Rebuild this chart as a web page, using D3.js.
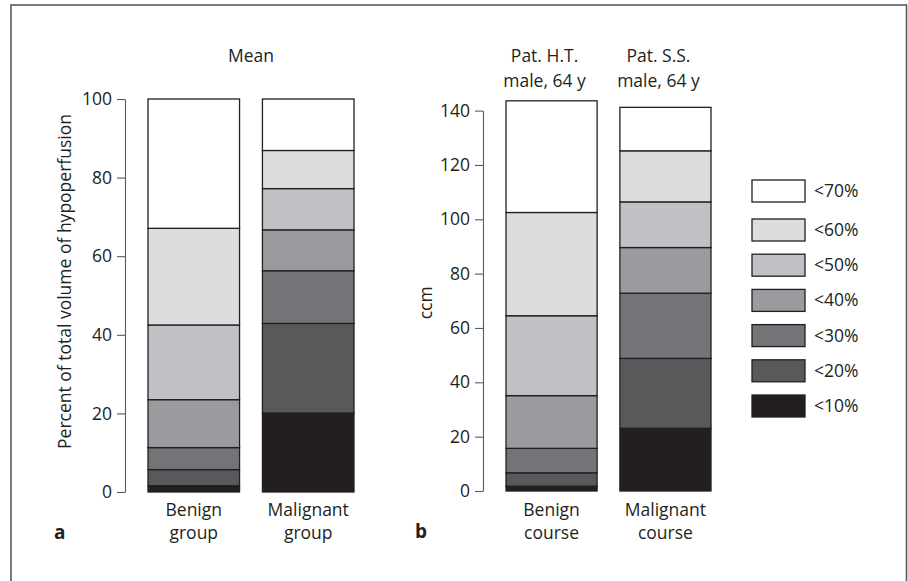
<!DOCTYPE html>
<html><head><meta charset="utf-8">
<script src="https://cdn.jsdelivr.net/npm/d3@7"></script>
<style>body{margin:0;background:#fff}svg text{font-family:"Open Sans",sans-serif;fill:#231f20}</style>
</head><body>
<script>
const levels = ["<10%","<20%","<30%","<40%","<50%","<60%","<70%"];
const levelColors = ["#231f20","#58595b","#737477","#9a9b9e","#c0c1c4","#dcdddf","#ffffff"];
const groupsA = ["Benign group","Malignant group"];
const groupsB = ["Benign course","Malignant course"];
const benignGroup = [1.6, 4.1, 5.6, 12.2, 19.0, 24.6, 32.9];
const malignantGroup = [20.1, 22.8, 13.4, 10.4, 10.5, 9.7, 13.1];
const benignCourse = [1.8, 4.9, 9.0, 19.4, 29.4, 38.0, 41.1];
const malignantCourse = [23.1, 25.7, 24.0, 16.8, 16.8, 18.8, 16.0];
const ticksA = [0,20,40,60,80,100];
const ticksB = [0,20,40,60,80,100,120,140];
const titleA = ["Mean"];
const titleB = [["Pat. H.T.","male, 64 y"],["Pat. S.S.","male, 64 y"]];
const catLabelsA = [["Benign","group"],["Malignant","group"]];
const catLabelsB = [["Benign","course"],["Malignant","course"]];
const yTitleA = "Percent of total volume of hypoperfusion";
const yTitleB = "ccm";

const W = 908, H = 581;
const svg = d3.select("body").append("svg").attr("width", W).attr("height", H);
const FS = 17.5;

svg.append("rect").attr("x", 11).attr("y", 5).attr("width", 895.5).attr("height", 620)
  .attr("fill", "none").attr("stroke", "#58595b").attr("stroke-width", 1.6);

function panel(cfg) {
  const y = d3.scaleLinear().domain(cfg.domain).range(cfg.yRange);
  const x = d3.scaleBand().domain(cfg.cats).range(cfg.xRange).paddingInner(0.2).paddingOuter(0);
  const rows = cfg.cats.map((c, i) => {
    const o = { cat: c };
    levels.forEach((l, j) => o[l] = cfg.values[i][j]);
    return o;
  });
  const stack = d3.stack().keys(levels)(rows);
  const g = svg.append("g");
  stack.forEach((layer, j) => {
    g.selectAll(null).data(layer).join("rect")
      .attr("x", d => x(d.data.cat))
      .attr("width", x.bandwidth())
      .attr("y", d => y(d[1]))
      .attr("height", d => y(d[0]) - y(d[1]))
      .attr("fill", levelColors[j])
      .attr("stroke", "#231f20").attr("stroke-width", 1.3);
  });
  const ax = svg.append("g").attr("transform", `translate(${cfg.axisX},0)`)
    .call(d3.axisLeft(y).tickValues(cfg.ticks).tickSize(8).tickSizeOuter(0).tickPadding(5));
  ax.select(".domain").attr("stroke", "#58595b").attr("stroke-width", 1.1);
  ax.selectAll(".tick line").attr("stroke", "#58595b").attr("stroke-width", 1.1);
  ax.selectAll("text").style("font-family", '"Open Sans",sans-serif').style("font-size", FS + "px").attr("fill", "#231f20");
  svg.append("text").attr("transform", `translate(${cfg.titleX},${(cfg.yRange[0] + cfg.yRange[1]) / 2 + cfg.titleDy}) rotate(-90)`)
    .attr("text-anchor", "middle").style("font-size", FS + "px").text(cfg.yTitle);
  cfg.cats.forEach((c, i) => {
    const cx = x(c) + x.bandwidth() / 2;
    cfg.catLabels[i].forEach((t, k) => {
      svg.append("text").attr("x", cx).attr("y", 516 + k * 23).attr("text-anchor", "middle")
        .style("font-size", FS + "px").text(t);
    });
  });
  return { x, y };
}

const A = panel({ domain: [0, 100], yRange: [492, 99], xRange: [148, 354], cats: groupsA,
  values: [benignGroup, malignantGroup], ticks: ticksA, axisX: 125, yTitle: yTitleA, titleX: 71, titleDy: -14,
  catLabels: catLabelsA });
const B = panel({ domain: [0, 140], yRange: [491, 110.6], xRange: [506, 711], cats: groupsB,
  values: [benignCourse, malignantCourse], ticks: ticksB, axisX: 483, yTitle: yTitleB, titleX: 432, titleDy: 2,
  catLabels: catLabelsB });

svg.append("text").attr("x", (A.x.range()[0] + A.x.range()[1]) / 2).attr("y", 62)
  .attr("text-anchor", "middle").style("font-size", FS + "px").text(titleA[0]);
groupsB.forEach((c, i) => {
  const cx = B.x(c) + B.x.bandwidth() / 2 - 7;
  titleB[i].forEach((t, k) => {
    svg.append("text").attr("x", cx).attr("y", 62 + k * 25).attr("text-anchor", "middle")
      .style("font-size", FS + "px").text(t);
  });
});

svg.append("text").attr("x", 54).attr("y", 539).style("font-size", "19px").style("font-weight", "bold").text("a");
svg.append("text").attr("x", 415).attr("y", 538).style("font-size", "19px").style("font-weight", "bold").text("b");

const legOrder = levels.map((l, j) => j).reverse();
legOrder.forEach((j, r) => {
  const top = 180 + r * 35.2 + (r > 0 ? 3.8 : 0);
  svg.append("rect").attr("x", 752).attr("y", top).attr("width", 53).attr("height", 22)
    .attr("fill", levelColors[j]).attr("stroke", "#231f20").attr("stroke-width", 1.3);
  svg.append("text").attr("x", 814).attr("y", top + 17).style("font-size", FS + "px").text(levels[j]);
});
</script>
</body></html>
